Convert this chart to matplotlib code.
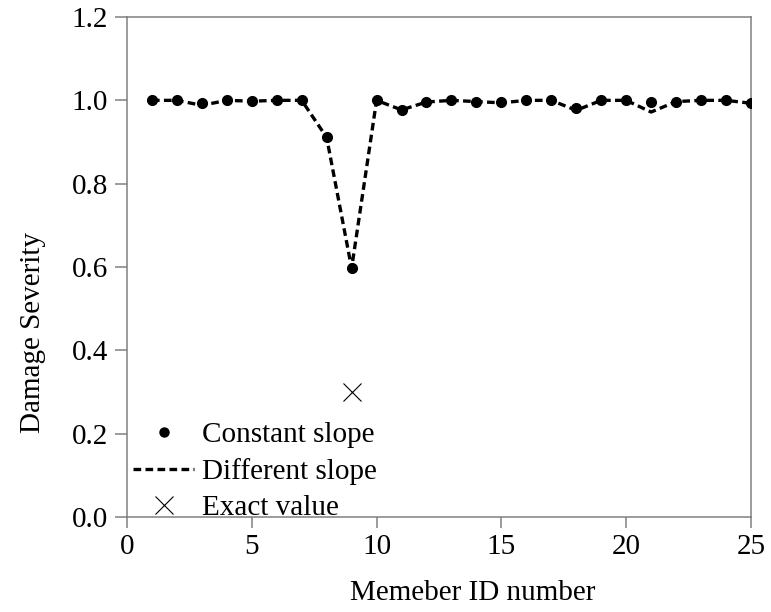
import matplotlib
matplotlib.use("Agg")
import matplotlib.pyplot as plt
from matplotlib.lines import Line2D

plt.rcParams['font.family'] = ['Liberation Serif', 'DejaVu Serif']

member_ids = list(range(1, 26))
constant_slope = [1.000, 1.000, 0.994, 1.000, 0.998, 1.000, 1.000, 0.911, 0.597, 1.000,
                  0.977, 0.996, 1.000, 0.997, 0.997, 1.000, 1.000, 0.982, 1.000, 1.000,
                  0.997, 0.997, 1.000, 1.000, 0.993]
different_slope = [1.000, 1.000, 0.988, 1.000, 0.998, 1.000, 1.000, 0.911, 0.597, 1.000,
                   0.977, 0.996, 1.000, 0.997, 0.994, 1.000, 1.000, 0.976, 1.000, 1.000,
                   0.972, 0.997, 1.000, 1.000, 0.993]
exact_x = [9]
exact_y = [0.3]

FS = 21

fig = plt.figure(figsize=(7.71, 6.12), dpi=100)
ax = fig.add_axes([0.1647, 0.1552, 0.8093, 0.8170])

ax.plot(member_ids, different_slope, color='black', lw=2.4, dashes=(2.3, 1.3), zorder=2)
ax.plot(member_ids, constant_slope, 'o', color='black', ms=7, zorder=3)
ax.plot(exact_x, exact_y, 'x', color='black', ms=13, mew=0.8, zorder=3)

ax.set_xlim(0, 25)
ax.set_ylim(0, 1.2)
ax.set_xticks([0, 5, 10, 15, 20, 25])
ax.set_yticks([0.0, 0.2, 0.4, 0.6, 0.8, 1.0, 1.2])
ax.set_yticklabels(['0.0', '0.2', '0.4', '0.6', '0.8', '1.0', '1.2'])

for s in ax.spines.values():
    s.set_color('#808080')
    s.set_linewidth(1.1)
ax.tick_params(direction='out', length=8, width=1.1, color='#808080',
               labelsize=FS, pad=4, top=False, right=False)
ax.tick_params(axis='y', length=8.5, pad=5)

ax.set_xlabel('Memeber ID number', fontsize=FS)
ax.set_ylabel('Damage Severity', fontsize=FS)
ax.xaxis.set_label_coords(0.554, -0.125)
ax.yaxis.set_label_coords(-0.13, 0.37)

handles = [
    Line2D([], [], ls='none', marker='o', color='black', ms=6.5),
    Line2D([], [], color='black', lw=2.4, dashes=(2.3, 1.3)),
    Line2D([], [], ls='none', marker='x', color='black', ms=13, mew=0.8),
]
labels = ['Constant slope', 'Different slope', 'Exact value']
ax.legend(handles, labels, loc='lower left', bbox_to_anchor=(0.01, -0.008),
          frameon=False, fontsize=FS, handlelength=2.1, handletextpad=0.25,
          labelspacing=0.33, borderpad=0, borderaxespad=0)

fig.savefig('out.png', dpi=100)
